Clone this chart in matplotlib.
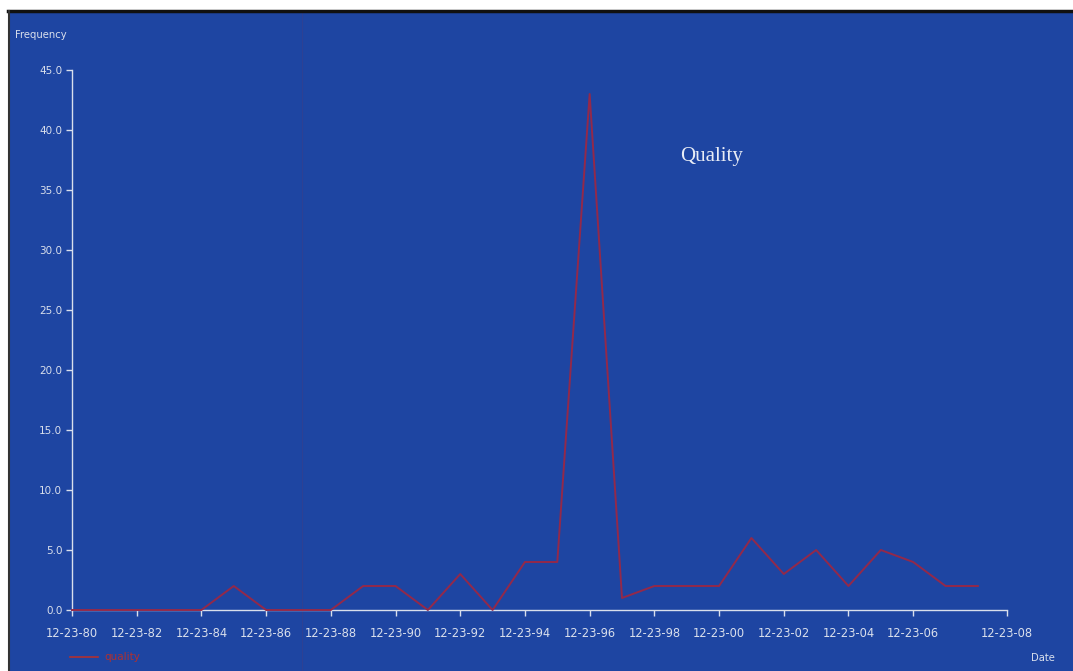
import matplotlib.pyplot as plt
from matplotlib.patches import Rectangle
from matplotlib.lines import Line2D

# yearly counts, 1980..2008
years = list(range(1980, 2009))
quality = [0, 0, 0, 0, 0, 2, 0, 0, 0, 2, 2, 0, 3, 0, 4, 4, 43, 1, 2, 2, 2, 6, 3, 5, 2, 5, 4, 2, 2]

tick_years = [1980, 1982, 1984, 1986, 1988, 1990, 1992, 1994, 1996, 1998, 2000, 2002, 2004, 2006, 2008.9]
tick_labels = ['12-23-80', '12-23-82', '12-23-84', '12-23-86', '12-23-88', '12-23-90', '12-23-92',
               '12-23-94', '12-23-96', '12-23-98', '12-23-00', '12-23-02', '12-23-04', '12-23-06', '12-23-08']
y_ticks = [0, 5, 10, 15, 20, 25, 30, 35, 40, 45]

bg = '#1e45a2'
fg = '#d9dfec'
red = '#93294a'

W, H = 1073, 671
fig = plt.figure(figsize=(W / 100, H / 100), dpi=100)
fig.patch.set_facecolor('white')

# blue scanned panel with dark top/left edge
fig.patches.append(Rectangle((8 / W, 0), 1 - 8 / W, 1 - 10 / H, transform=fig.transFigure,
                             facecolor=bg, edgecolor='none', zorder=-2))
fig.add_artist(Line2D([8 / W, 1], [1 - 11 / H, 1 - 11 / H], transform=fig.transFigure, color='#111', lw=2.5))
fig.add_artist(Line2D([9 / W, 9 / W], [0, 1 - 11 / H], transform=fig.transFigure, color='#333', lw=1.5))
# faint scan streak
streak = Line2D([302 / W, 302 / W], [0, 1 - 12 / H], transform=fig.transFigure, color='#3a3f8a', lw=0.8, alpha=0.6)
streak.set_zorder(-1)
fig.add_artist(streak)

ax = fig.add_axes([72 / W, 61 / H, (1007 - 72) / W, (610 - 70) / H])
ax.set_zorder(2)
ax.set_facecolor('none')
ax.plot(years, quality, color=red, lw=1.4, zorder=3, clip_on=False)

ax.set_xlim(1980, 2008.9)
ax.set_ylim(0, 45)
ax.set_xticks(tick_years)
ax.set_xticklabels(tick_labels)
ax.set_yticks(y_ticks)
ax.set_yticklabels([f'{v:.1f}' for v in y_ticks])

for s in ['top', 'right']:
    ax.spines[s].set_visible(False)
for s in ['left', 'bottom']:
    ax.spines[s].set_color(fg)
    ax.spines[s].set_linewidth(1.0)
ax.tick_params(colors=fg, length=4, width=1.0)
ax.tick_params(axis='y', direction='out', pad=3, labelsize=7.5)
ax.tick_params(axis='x', direction='out', pad=8, labelsize=8.3)
for lab in ax.get_xticklabels() + ax.get_yticklabels():
    lab.set_color(fg)

fig.text(15 / W, 1 - 35 / H, 'Frequency', color=fg, fontsize=7.2, va='center', ha='left')
fig.text(1043 / W, 1 - 658 / H, 'Date', color=fg, fontsize=7.2, va='center', ha='center')
fig.text(712 / W, 1 - 157 / H, 'Quality', color='#e8ecf5', fontsize=15, family='Liberation Serif',
         va='center', ha='center')

# legend entry
fig.add_artist(Line2D([70 / W, 98 / W], [1 - 657 / H, 1 - 657 / H], transform=fig.transFigure, color='#b03030', lw=1.2))
fig.text(104 / W, 1 - 657 / H, 'quality', color='#b03030', fontsize=7.5, va='center', ha='left')

fig.savefig('out.png', dpi=100, facecolor=fig.get_facecolor())
